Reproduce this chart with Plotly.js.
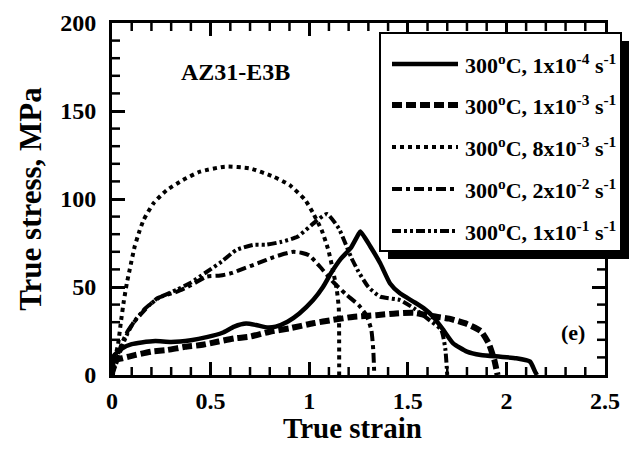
<!DOCTYPE html>
<html>
<head>
<meta charset="utf-8">
<script src="https://cdn.plot.ly/plotly-3.0.1.min.js"></script>
<style>
  html, body { margin: 0; padding: 0; background: #fff; }
  #chart { width: 629px; height: 452px; }
</style>
</head>
<body>
<div id="chart"></div>
<script>
// Tensile flow curves of AZ31-E3B at 300 °C for five strain rates.
const seriesLabels = [
  '300<sup>o</sup>C, 1x10<sup>-4</sup> s<sup>-1</sup>',
  '300<sup>o</sup>C, 1x10<sup>-3</sup> s<sup>-1</sup>',
  '300<sup>o</sup>C, 8x10<sup>-3</sup> s<sup>-1</sup>',
  '300<sup>o</sup>C, 2x10<sup>-2</sup> s<sup>-1</sup>',
  '300<sup>o</sup>C, 1x10<sup>-1</sup> s<sup>-1</sup>'
];

const strain1e4 = [0, 0.01, 0.05, 0.1, 0.15, 0.22, 0.3, 0.4, 0.48, 0.56, 0.62, 0.68, 0.73, 0.79, 0.83, 0.89, 0.95, 1.02, 1.07, 1.11, 1.16, 1.21, 1.25, 1.26, 1.31, 1.36, 1.41, 1.46, 1.53, 1.58, 1.63, 1.68, 1.73, 1.8, 1.87, 1.97, 2.05, 2.12, 2.145, 2.155];
const stress1e4 = [0, 11, 15, 17.5, 18.5, 19.3, 18.8, 19.8, 21.5, 24, 27.5, 29.2, 28.4, 27, 27.5, 30.3, 35, 42.6, 50, 57.8, 66, 72, 80, 81.5, 73, 63.5, 52, 46.4, 41.6, 38, 33, 25.6, 18, 13.3, 11.4, 10.4, 9.5, 7.6, 2, 0];

const strain1e3 = [0, 0.01, 0.05, 0.12, 0.2, 0.28, 0.37, 0.45, 0.54, 0.62, 0.7, 0.8, 0.9, 1.02, 1.12, 1.22, 1.34, 1.44, 1.53, 1.62, 1.71, 1.8, 1.87, 1.91, 1.94, 1.955];
const stress1e3 = [0, 8, 9.5, 11.4, 13.3, 14.2, 16, 17, 19, 20.8, 21.8, 24.6, 26.5, 29.4, 31.3, 33, 34, 35, 35.4, 33.5, 32, 29, 25, 18, 8, 0];

const strain8e3 = [0, 0.005, 0.03, 0.045, 0.06, 0.075, 0.09, 0.115, 0.14, 0.16, 0.21, 0.277, 0.36, 0.446, 0.573, 0.7, 0.818, 0.9, 0.98, 1.02, 1.063, 1.097, 1.12, 1.14, 1.15, 1.152];
const stress8e3 = [0, 5, 17, 30, 42, 52, 60, 73, 82, 88, 97.5, 105, 110.8, 115.5, 118.4, 117.4, 112.7, 108, 99.4, 91.9, 82.4, 71, 59.7, 48.3, 38, 0];

const strain2e2 = [0, 0.02, 0.05, 0.08, 0.107, 0.17, 0.23, 0.33, 0.4, 0.48, 0.55, 0.61, 0.67, 0.74, 0.82, 0.88, 0.92, 0.96, 1.0, 1.055, 1.12, 1.19, 1.25, 1.29, 1.315, 1.325, 1.33];
const stress2e2 = [0, 8, 18, 25, 29.4, 37.5, 43.6, 47.4, 51, 55.9, 56.5, 58, 60.6, 63.5, 67, 69, 70, 69.5, 68, 61.5, 53, 45.5, 39.8, 34, 25.6, 14, 0];

const strain1e1 = [0, 0.02, 0.05, 0.08, 0.11, 0.17, 0.24, 0.33, 0.4, 0.47, 0.556, 0.63, 0.72, 0.78, 0.86, 0.94, 1.02, 1.09, 1.15, 1.18, 1.215, 1.25, 1.3, 1.36, 1.46, 1.53, 1.6, 1.67, 1.69, 1.7];
const stress1e1 = [0, 6, 16, 24, 30, 38, 44, 48.5, 52.5, 57.8, 64.4, 71, 74, 74, 75.7, 78.5, 86, 91.5, 83.3, 75.7, 66.3, 58.7, 50, 44.5, 42.6, 38, 32, 25.6, 15, 0];

const xTickVals = [0, 0.5, 1, 1.5, 2, 2.5];
const xTickText = ['0', '0.5', '1', '1.5', '2', '2.5'];
const yTickVals = [0, 50, 100, 150, 200];
const yTickText = ['0', '50', '100', '150', '200'];

// minor tick positions: every 0.1 in strain, every 10 MPa in stress
const xMinor = [], yMinor = [];
for (let k = 1; k < 25; k++) if (k % 5) xMinor.push(+(k * 0.1).toFixed(1));
for (let k = 1; k < 20; k++) if (k % 5) yMinor.push(k * 10);

const serif = '"Liberation Serif", "Times New Roman", serif';
const lineStyles = [
  { width: 4.5, dash: 'solid' },
  { width: 6, dash: '10px,4px' },
  { width: 4, dash: '4px,4px' },
  { width: 4, dash: '10px,4px,4px,4px' },
  { width: 4, dash: '9px,3px,3px,3px,3px,3px' }
];

const xs = [strain1e4, strain1e3, strain8e3, strain2e2, strain1e1];
const ys = [stress1e4, stress1e3, stress8e3, stress2e2, stress1e1];

const traces = xs.map((x, i) => ({
  type: 'scatter', mode: 'lines', x: x, y: ys[i],
  name: seriesLabels[i], showlegend: false,
  line: { color: '#000', width: lineStyles[i].width, dash: lineStyles[i].dash, shape: 'spline', smoothing: 0.5 }
}));

// Plot area geometry in pixels
const W = 629, H = 452, L = 112, R = 24, T = 23, B = 77;
const pw = W - L - R, ph = H - T - B;
const px = v => (v - L) / pw;
const py = v => (H - B - v) / ph;

const shapes = [];
// minor ticks on all four sides of the frame
const mlen = 8, mw = 2.5;
xMinor.forEach(v => {
  shapes.push({ type: 'line', xref: 'x', yref: 'paper', x0: v, x1: v, y0: 0, y1: mlen / ph, line: { color: '#000', width: mw } });
  shapes.push({ type: 'line', xref: 'x', yref: 'paper', x0: v, x1: v, y0: 1, y1: 1 - mlen / ph, line: { color: '#000', width: mw } });
});
yMinor.forEach(v => {
  shapes.push({ type: 'line', xref: 'paper', yref: 'y', x0: 0, x1: mlen / pw, y0: v, y1: v, line: { color: '#000', width: mw } });
  shapes.push({ type: 'line', xref: 'paper', yref: 'y', x0: 1, x1: 1 - mlen / pw, y0: v, y1: v, line: { color: '#000', width: mw } });
});
// key shadow and frame
shapes.push({ type: 'rect', xref: 'paper', yref: 'paper', x0: px(388), x1: px(629), y0: py(259), y1: py(41),
  fillcolor: '#000', line: { width: 0 }, layer: 'above' });
shapes.push({ type: 'rect', xref: 'paper', yref: 'paper', x0: px(380), x1: px(621), y0: py(251), y1: py(33),
  fillcolor: '#fff', line: { color: '#000', width: 2 }, layer: 'above' });

const annotations = [
  { xref: 'paper', yref: 'paper', x: px(235), y: py(72), text: 'AZ31-E3B', showarrow: false,
    font: { family: serif, size: 24, color: '#000', weight: 'bold' }, xanchor: 'center', yanchor: 'middle' },
  { xref: 'paper', yref: 'paper', x: px(573), y: py(332), text: '(e)', showarrow: false,
    font: { family: serif, size: 22, color: '#000', weight: 'bold' }, xanchor: 'center', yanchor: 'middle' },
  { xref: 'paper', yref: 'paper', x: px(352), y: py(428), text: 'True strain', showarrow: false,
    font: { family: serif, size: 29, color: '#000', weight: 'bold' }, xanchor: 'center', yanchor: 'middle' }
];
const rowY = [64, 105, 147, 189, 231];
seriesLabels.forEach((lab, i) => {
  shapes.push({ type: 'line', xref: 'paper', yref: 'paper', x0: px(392), x1: px(458), y0: py(rowY[i]), y1: py(rowY[i]),
    line: { color: '#000', width: lineStyles[i].width, dash: lineStyles[i].dash }, layer: 'above' });
  annotations.push({ xref: 'paper', yref: 'paper', x: px(463), y: py(rowY[i]), text: lab, showarrow: false,
    xanchor: 'left', yanchor: 'middle', font: { family: serif, size: 22, color: '#000', weight: 'bold' } });
});

const axisCommon = {
  showgrid: false, zeroline: false, showline: true, linecolor: '#000', linewidth: 3,
  mirror: 'allticks', ticks: 'inside', ticklen: 13, tickwidth: 3, tickcolor: '#000',
  tickfont: { family: serif, size: 24, color: '#000', weight: 'bold' }
};

const layout = {
  width: W, height: H,
  margin: { l: L, r: R, t: T, b: B, pad: 0 },
  paper_bgcolor: '#fff', plot_bgcolor: '#fff',
  showlegend: false,
  xaxis: Object.assign({}, axisCommon, {
    range: [0, 2.5], tickmode: 'array', tickvals: xTickVals, ticktext: xTickText,
    ticklabelstandoff: 2
  }),
  yaxis: Object.assign({}, axisCommon, {
    range: [0, 200], tickmode: 'array', tickvals: yTickVals, ticktext: yTickText,
    ticklabelstandoff: 8,
    title: { text: 'True stress, MPa', standoff: 10, font: { family: serif, size: 31, color: '#000', weight: 'bold' } }
  }),
  shapes: shapes,
  annotations: annotations
};

Plotly.newPlot('chart', traces, layout, { staticPlot: true, displayModeBar: false });
</script>
</body>
</html>
